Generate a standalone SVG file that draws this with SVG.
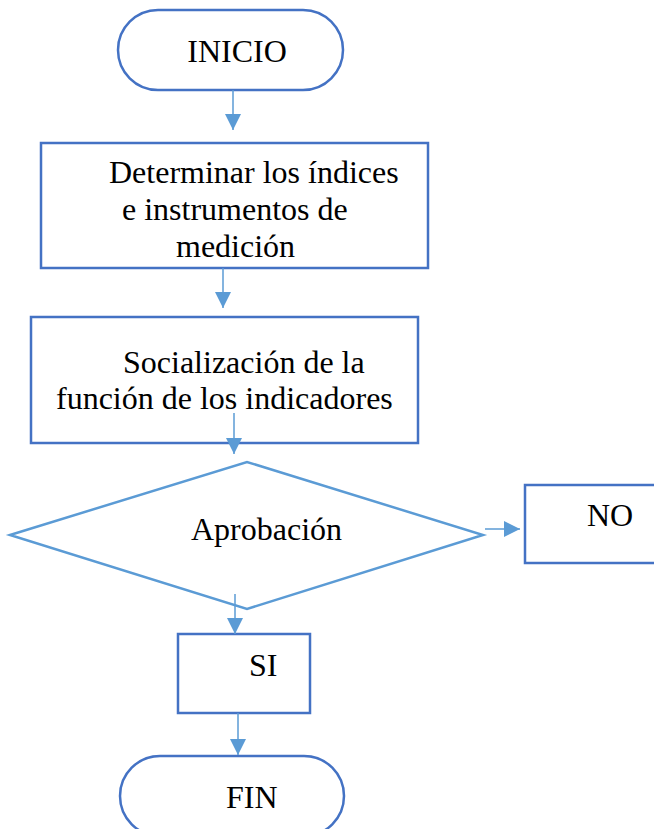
<svg xmlns="http://www.w3.org/2000/svg" width="654" height="829" viewBox="0 0 654 829">
<style>
.box{fill:#fff;stroke:#4472C4;stroke-width:2.5}
.dia{fill:#fff;stroke:#5B9BD5;stroke-width:2.5}
.t{font-family:"Liberation Serif","Times New Roman",serif;font-size:32px;fill:#000}
.c{stroke:#5B9BD5;stroke-width:1.5;fill:none}
</style>
<defs>
<marker id="ah" markerWidth="16" markerHeight="16" refX="16" refY="8" orient="auto" markerUnits="userSpaceOnUse">
<path d="M0,0 L16,8 L0,16 Z" fill="#5B9BD5"/>
</marker>
</defs>
<g id="inicio">
<rect class="box" x="118" y="10" width="225" height="80" rx="40" ry="40"/>
<text class="t" x="237" y="62" text-anchor="middle">INICIO</text>
</g>
<g id="determinar">
<rect class="box" x="41" y="143" width="387" height="125"/>
<text class="t" x="109" y="183">Determinar los índices</text>
<text class="t" x="122" y="220">e instrumentos de</text>
<text class="t" x="176" y="257">medición</text>
</g>
<g id="socializacion">
<rect class="box" x="31" y="317" width="387" height="126"/>
<text class="t" x="123" y="373">Socialización de la</text>
<text class="t" x="56" y="409">función de los indicadores</text>
</g>
<g id="aprobacion">
<polygon class="dia" points="10,535 247,462 483,535 247,609"/>
<text class="t" x="191" y="540">Aprobación</text>
</g>
<g id="no">
<rect class="box" x="525" y="485" width="140" height="78"/>
<text class="t" x="587" y="526">NO</text>
</g>
<g id="si">
<rect class="box" x="178" y="634" width="132" height="79"/>
<text class="t" x="249" y="676">SI</text>
</g>
<g id="fin">
<rect class="box" x="120" y="756" width="224" height="80" rx="40" ry="40"/>
<text class="t" x="226" y="808">FIN</text>
</g>
<g id="connectors">
<line class="c" x1="233" y1="90" x2="233" y2="130" marker-end="url(#ah)"/>
<line class="c" x1="223" y1="268" x2="223" y2="308" marker-end="url(#ah)"/>
<line class="c" x1="234" y1="413" x2="234" y2="454" marker-end="url(#ah)"/>
<line class="c" x1="485" y1="529" x2="520" y2="529" marker-end="url(#ah)"/>
<line class="c" x1="235" y1="594" x2="235" y2="634" marker-end="url(#ah)"/>
<line class="c" x1="238" y1="713" x2="238" y2="755" marker-end="url(#ah)"/>
</g>
</svg>
